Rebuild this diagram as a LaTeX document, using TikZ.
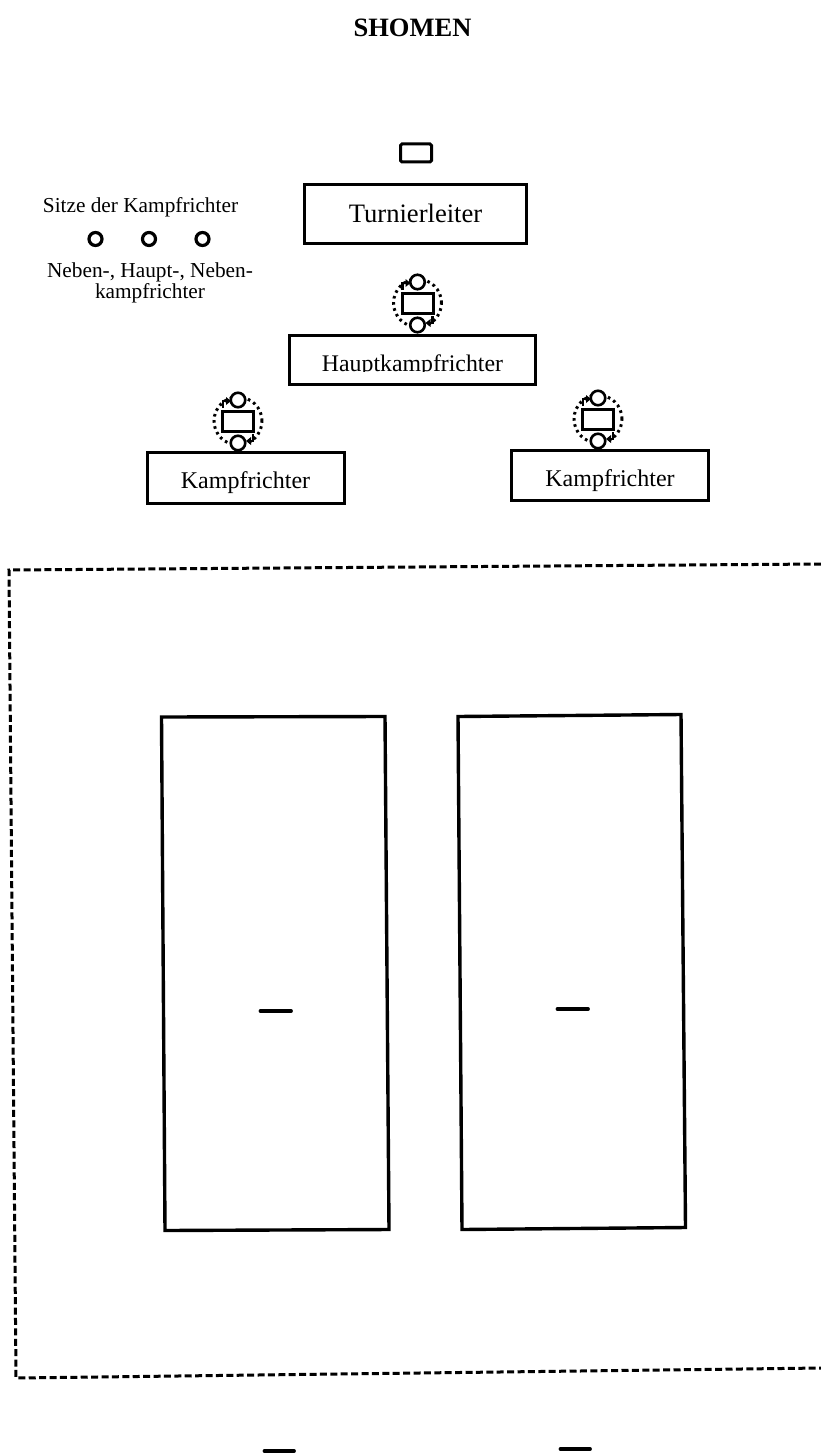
\documentclass[tikz,border=0pt]{standalone}
\usepackage{fontspec}
\setmainfont{Liberation Serif}
\tikzset{
  x=1pt,y=-1pt,
  box/.style={draw=black,line width=3pt,fill=white,inner sep=0pt,anchor=north west},
  court/.style={draw=black,line width=3.4pt,line join=miter},
  seat/.style={circle,draw=black,line width=3.2pt,minimum size=13pt,inner sep=0pt,fill=white},
  head/.style={circle,draw=black,line width=2.6pt,minimum size=14.5pt,inner sep=0pt,fill=white},
  desk/.style={draw=black,line width=3pt,rectangle,minimum width=31pt,minimum height=20pt,inner sep=0pt,fill=white},
  border/.style={draw=black,line width=3pt,dash pattern=on 7pt off 3.4pt},
  tick/.style={draw=black,line width=3.8pt,line cap=round},
  lbl/.style={inner sep=0pt,align=center}
}
\newcommand{\referee}[3]{%
  \draw[black,line width=3pt,dash pattern=on 2.6pt off 3.6pt] (#2,#3) circle [x radius=24pt,y radius=24pt];
  \node[desk] (#1d) at (#2,#3) {};
  \node[head] (#1t) at (#2,#3-21) {};
  \node[head] (#1b) at (#2,#3+22) {};
  \draw[black,line width=2.2pt] (#2-15,#3-13) -- (#2-15,#3-20) -- (#2-11,#3-20);
  \fill[black] (#2-7,#3-20) -- (#2-12,#3-24) -- (#2-12,#3-16) -- cycle;
  \draw[black,line width=2.2pt] (#2+15,#3+13) -- (#2+15,#3+20) -- (#2+12,#3+20);
  \fill[black] (#2+8,#3+20) -- (#2+13,#3+16) -- (#2+13,#3+24) -- cycle;
}
\begin{document}
\begin{tikzpicture}
\useasboundingbox (0,0) rectangle (821,1455);
\fill[white] (0,0) rectangle (821,1455);
% title
\node[lbl,font=\fontsize{26.5}{30}\selectfont\bfseries] (title) at (412.5,28) {SHOMEN};
% tournament director
\node[draw=black,line width=3pt,rounded corners=1.5pt,minimum width=31pt,minimum height=18pt,inner sep=0pt] (tdesk) at (416,153) {};
\node[box,minimum width=222pt,minimum height=59.5pt] (tl) at (302.5,183) {};
\node[lbl,font=\fontsize{26.6}{30}\selectfont] (tltext) at (415.5,213.5) {Turnierleiter};
% legend
\node[lbl,font=\fontsize{21.3}{24}\selectfont] (leg1) at (140.5,207) {Sitze der Kampfrichter};
\node[seat] (s1) at (95.5,239) {};
\node[seat] (s2) at (149,239) {};
\node[seat] (s3) at (202.5,239) {};
\node[lbl,font=\fontsize{21.3}{24}\selectfont] (leg2) at (150,272) {Neben-, Haupt-, Neben-};
\node[lbl,font=\fontsize{21.3}{24}\selectfont] (leg3) at (150,293.5) {kampfrichter};
% referee symbols
\referee{ra}{417.5}{303}
\referee{rb}{238}{421}
\referee{rc}{598}{419}
% head referee
\node[box,minimum width=246pt,minimum height=49pt] (hk) at (288,334) {};
\node[lbl,font=\fontsize{23.8}{27}\selectfont,anchor=base] (hktext) at (412.5,371) {Hauptkampfrichter};
\fill[white] (291,372) rectangle (534,383);
% judges
\node[box,minimum width=196.5pt,minimum height=50.5pt] (k1) at (146,451) {};
\node[lbl,font=\fontsize{24}{27}\selectfont] (k1text) at (245.5,483) {Kampfrichter};
\node[box,minimum width=197pt,minimum height=50pt] (k2) at (509.5,449) {};
\node[lbl,font=\fontsize{24}{27}\selectfont] (k2text) at (610,481) {Kampfrichter};
% competition area
\coordinate (atr) at (821,564);
\coordinate (atl) at (9,570);
\coordinate (abl) at (16,1378);
\coordinate (abr) at (821,1368);
\draw[border] (atr) -- (atl) -- (abl) -- (abr);
% courts
\draw[court] (161.5,717) -- (385,716.5) -- (389,1229.5) -- (165,1230.5) -- cycle;
\draw[court] (458,716.5) -- (681,714.5) -- (685.5,1227.5) -- (462,1229.5) -- cycle;
% marks
\draw[tick] (260.5,1011) -- (291,1011);
\draw[tick] (557.5,1009) -- (588,1009);
\draw[tick] (264.5,1451) -- (294,1451);
\draw[tick] (560.5,1449) -- (590,1449);
\end{tikzpicture}
\end{document}
